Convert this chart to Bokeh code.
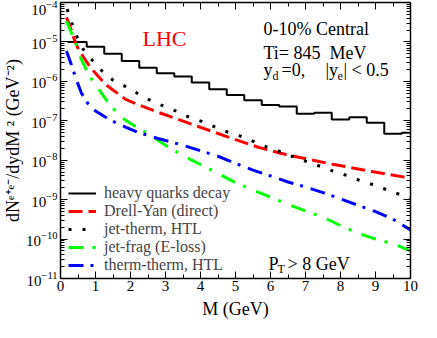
import numpy as np
from bokeh.plotting import figure
from bokeh.models import (Label, Legend, LegendItem, LinearAxis, LogAxis, FixedTicker,
                          Range1d, LogTickFormatter, CustomJSTickFormatter)
from bokeh.embed import file_html
from bokeh.resources import INLINE

# heavy quarks decay histogram (bin edges in GeV, values)
hq_edges = [0.2, 0.75, 1.25, 1.75, 2.25, 2.75, 3.25, 3.75, 4.25, 4.75, 5.25,
            5.75, 6.25, 6.75, 7.25, 7.75, 8.25, 8.75, 9.25, 9.75, 10.0]
hq_vals = [1.0e-5, 7.5e-6, 5.0e-6, 3.3e-6, 2.2e-6, 1.6e-6, 1.32e-6, 9.3e-7, 6.3e-7, 4.5e-7,
           3.3e-7, 2.5e-7, 2.3e-7, 1.5e-7, 1.6e-7, 1.08e-7, 1.23e-7, 8.9e-8, 4.7e-8, 5.0e-8]

# Drell-Yan (direct)
m_dy = [0.17, 0.3, 0.4, 0.52, 0.86, 1.29, 1.86, 2.14, 2.81, 3.76, 4.71, 5.67, 6.5, 7.77, 8.9, 10.0]
v_dy = [4.2e-5, 2.1e-5, 1.12e-5, 6.3e-6, 2.2e-6, 8.3e-7, 3.5e-7, 2.75e-7, 1.62e-7, 8.1e-8,
        4.1e-8, 2.1e-8, 1.35e-8, 7.9e-9, 5.2e-9, 3.5e-9]

# jet-therm, HTL
m_jt = [0.19, 0.32, 0.46, 0.65, 0.91, 1.17, 1.48, 1.83, 2.19, 2.54, 2.9, 3.29, 3.66, 4.05, 4.43,
        4.79, 5.17, 5.55, 5.93, 6.31, 6.7, 7.08, 7.46, 7.84, 8.22, 8.6, 9.0, 9.38, 9.76, 10.0]
v_jt = [6.8e-5, 3.1e-5, 1.41e-5, 6.5e-6, 3.4e-6, 1.9e-6, 1.1e-6, 7.6e-7, 5.0e-7, 3.4e-7,
        2.45e-7, 1.78e-7, 1.26e-7, 9.5e-8, 6.9e-8, 5.1e-8, 4.0e-8, 2.9e-8, 2.1e-8, 1.62e-8,
        1.17e-8, 8.9e-9, 6.8e-9, 5.1e-9, 4.0e-9, 2.95e-9, 2.3e-9, 1.7e-9, 1.29e-9, 1.1e-9]

# jet-frag (E-loss)
m_jf = [0.17, 0.43, 0.6, 0.85, 1.33, 1.7, 2.0, 2.5, 3.0, 3.5, 4.0, 4.5, 5.0, 5.5, 6.0, 6.5,
        7.0, 7.5, 8.0, 8.5, 9.0, 9.5, 10.0]
v_jf = [3.4e-5, 9.5e-6, 3.5e-6, 1.26e-6, 3.2e-7, 1.3e-7, 8.5e-8, 4.7e-8, 2.4e-8, 1.3e-8,
        7.8e-9, 4.6e-9, 2.7e-9, 1.74e-9, 1.17e-9, 7.6e-10, 5.2e-10, 3.6e-10, 2.2e-10,
        1.41e-10, 1.0e-10, 7.6e-11, 5.0e-11]

# therm-therm, HTL
m_tt = [0.17, 0.3, 0.45, 0.6, 0.8, 1.0, 1.4, 1.86, 2.24, 2.81, 3.5, 4.0, 4.5, 5.0, 5.5, 6.0,
        6.5, 7.0, 7.5, 8.0, 8.5, 9.0, 9.5, 10.0]
v_tt = [5.9e-6, 2.8e-6, 1.12e-6, 5.0e-7, 2.6e-7, 1.78e-7, 1.07e-7, 6.9e-8, 5.0e-8, 3.5e-8,
        2.4e-8, 1.74e-8, 1.26e-8, 8.3e-9, 5.6e-9, 4.0e-9, 2.8e-9, 2.1e-9, 1.51e-9, 1.05e-9,
        7.2e-10, 5.0e-10, 3.2e-10, 1.7e-10]

x_ticks = [0, 1, 2, 3, 4, 5, 6, 7, 8, 9, 10]
x_minor = [0.5, 1.5, 2.5, 3.5, 4.5, 5.5, 6.5, 7.5, 8.5, 9.5]
y_ticks = [10.0 ** k for k in range(-11, -3)]
y_minor = [m * 10.0 ** k for k in range(-11, -4) for m in range(2, 10)]

FONT = "Liberation Serif"

p = figure(frame_width=350, frame_height=276, x_range=Range1d(0, 10),
           y_range=Range1d(1e-11, 1e-4),
           y_axis_type="log", output_backend="svg", toolbar_location=None,
           min_border_left=57, min_border_right=14, min_border_top=2, min_border_bottom=40)
p.grid.visible = False
p.outline_line_color = "black"
p.background_fill_color = "white"
p.border_fill_color = "white"

bottom = p.below[0]
left = p.left[0]
top = LinearAxis()
right = LogAxis()
p.add_layout(top, "above")
p.add_layout(right, "right")

xt = FixedTicker(ticks=x_ticks, minor_ticks=x_minor)
yt = FixedTicker(ticks=y_ticks, minor_ticks=y_minor)
for ax in (bottom, top):
    ax.ticker = xt
for ax in (left, right):
    ax.ticker = yt
left.formatter = LogTickFormatter()

for ax in (bottom, left, top, right):
    ax.axis_line_color = "black"
    ax.axis_line_width = 1.5
    ax.major_tick_in = 7
    ax.major_tick_out = 0
    ax.minor_tick_in = 4
    ax.minor_tick_out = 0
    ax.major_tick_line_color = "black"
    ax.minor_tick_line_color = "black"
    ax.major_label_text_font = FONT
    ax.major_label_text_font_size = "15px"
    ax.major_label_text_color = "black"
    ax.major_label_standoff = 4
for ax in (top, right):
    ax.formatter = CustomJSTickFormatter(code="return ''")
    ax.major_label_standoff = 0

bottom.axis_label = "M (GeV)"
left.axis_label = "dNᵉ⁺ᵉ⁻/dydM ² (GeV⁻²)"
left.major_label_standoff = 3
left.axis_label_standoff = 0
bottom.major_label_standoff = 2
bottom.axis_label_standoff = 5
for ax in (bottom, left):
    ax.axis_label_text_font = FONT
    ax.axis_label_text_font_size = "18px"
    ax.axis_label_text_font_style = "normal"
    ax.axis_label_text_color = "black"

r_hq = p.step(x=hq_edges, y=hq_vals + [hq_vals[-1]], mode="after",
              line_color="black", line_width=2)
r_dy = p.line(m_dy, v_dy, line_color="#ff0000", line_width=3, line_dash="14 6")
r_jt = p.line(m_jt, v_jt, line_color="black", line_width=3, line_dash="3 11")
r_jf = p.line(m_jf, v_jf, line_color="#00ff00", line_width=3, line_dash="15 9 3 11")
r_tt = p.line(m_tt, v_tt, line_color="#0000ff", line_width=3, line_dash="15 7 3 8")

legend = Legend(items=[
    LegendItem(label="heavy quarks decay", renderers=[r_hq]),
    LegendItem(label="Drell-Yan (direct)", renderers=[r_dy]),
    LegendItem(label="jet-therm, HTL", renderers=[r_jt]),
    LegendItem(label="jet-frag (E-loss)", renderers=[r_jf]),
    LegendItem(label="therm-therm, HTL", renderers=[r_tt]),
], location=(8, 4), padding=0, margin=0, spacing=0, glyph_width=28, glyph_height=18,
    label_height=18, label_standoff=8, label_text_font=FONT, label_text_font_size="16px",
    border_line_color=None, background_fill_alpha=0)
p.add_layout(legend)


def lab(text, x, y, size, color="black", angle=0.0, align="left"):
    p.add_layout(Label(x=x, y=y, x_units="screen", y_units="screen", text=text,
                       text_font=FONT, text_font_size=size, text_color=color,
                       text_baseline="alphabetic", text_align=align, angle=angle))


lab("LHC", 82, 240, "22px", color="#ff0000")
lab("0-10% Central", 203, 250, "18px")
lab("Ti= 845\u00a0 MeV", 203, 226, "18px")
lab("y", 203, 209, "18px")
lab("d", 212, 203, "12px")
lab("=0,", 221, 209, "18px")
lab("|y", 265, 209, "18px")
lab("e", 277, 203, "12px")
lab("| < 0.5", 283, 209, "18px")
lab("P", 208, 15, "18px")
lab("T", 217, 10, "12px")
lab("> 8 GeV", 227, 15, "18px")

open("out.html", "w").write(file_html(p, INLINE))
